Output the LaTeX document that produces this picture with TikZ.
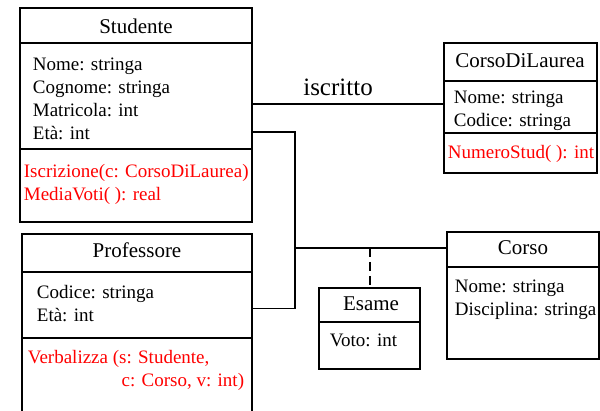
\documentclass[tikz,border=0pt]{standalone}
\usepackage{fontspec}
\setmainfont{Liberation Serif}
\begin{document}
\begin{tikzpicture}[x=1pt, y=-1pt, line width=1.8pt,
    classbox/.style={draw, anchor=north west, inner sep=0pt, outer sep=0pt},
    classname/.style={font=\fontsize{21}{25}\selectfont, anchor=base, inner sep=0pt},
    attrs/.style={font=\fontsize{19}{23}\selectfont, anchor=north west, align=left, inner sep=0pt},
    methods/.style={attrs, text=red}]

    \useasboundingbox (0,0) rectangle (600,411);

    % -----------------------
    % 1. Studente
    % -----------------------
    \node[classbox, minimum width=232pt, minimum height=214pt] (stud) at (20,8) {};
    \draw ([yshift=-35pt]stud.north west) -- ([yshift=-35pt]stud.north east);
    \draw ([yshift=-141pt]stud.north west) -- ([yshift=-141pt]stud.north east);
    \node[classname] (studname) at (136,34) {Studente};
    \node[attrs] (studattr) at (32,56.9) {Nome: stringa\\Cognome: stringa\\Matricola: int\\Età: int};
    \node[methods] (studmeth) at (23,163.9) {Iscrizione(c: CorsoDiLaurea)\\MediaVoti( ): real};

    % -----------------------
    % 2. CorsoDiLaurea
    % -----------------------
    \node[classbox, minimum width=153pt, minimum height=130pt] (cdl) at (444,43) {};
    \draw ([yshift=-38pt]cdl.north west) -- ([yshift=-38pt]cdl.north east);
    \draw ([yshift=-90pt]cdl.north west) -- ([yshift=-90pt]cdl.north east);
    \node[classname] (cdlname) at (520,68) {CorsoDiLaurea};
    \node[attrs] (cdlattr) at (453,89.9) {Nome: stringa\\Codice: stringa};
    \node[methods, anchor=base west] (cdlmeth) at (447,159) {NumeroStud( ): int};

    % -----------------------
    % 3. Professore (runs off the bottom)
    % -----------------------
    \node[classbox, minimum width=230pt, minimum height=180pt] (prof) at (22,234) {};
    \draw ([yshift=-38pt]prof.north west) -- ([yshift=-38pt]prof.north east);
    \draw ([yshift=-104pt]prof.north west) -- ([yshift=-104pt]prof.north east);
    \node[classname] (profname) at (137,258) {Professore};
    \node[attrs] (profattr) at (36,284.9) {Codice: stringa\\Età: int};
    \node[methods, anchor=base west] (profmeth) at (27,364) {Verbalizza (s: Studente,};
    \node[methods, anchor=base east] (profmethb) at (245,387) {c: Corso, v: int)};

    % -----------------------
    % 4. Esame
    % -----------------------
    \node[classbox, minimum width=101pt, minimum height=81pt] (esame) at (319,288) {};
    \draw ([yshift=-34pt]esame.north west) -- ([yshift=-34pt]esame.north east);
    \node[classname] (esamename) at (371,311) {Esame};
    \node[attrs, anchor=base west] (esameattr) at (329,347) {Voto: int};

    % -----------------------
    % 5. Corso
    % -----------------------
    \node[classbox, minimum width=152pt, minimum height=127pt] (corso) at (447,232) {};
    \draw ([yshift=-35pt]corso.north west) -- ([yshift=-35pt]corso.north east);
    \node[classname] (corsoname) at (523,255) {Corso};
    \node[attrs] (corsoattr) at (454,278.9) {Nome: stringa\\Disciplina: stringa};

    % -----------------------
    % Relationships (Lines)
    % -----------------------
    \coordinate (isc) at ([yshift=4pt]cdl.west);
    \coordinate (jn) at (295,248);

    % Studente -- CorsoDiLaurea
    \draw (isc -| stud.east) -- node[pos=0.448, above=7pt, inner sep=0pt, font=\fontsize{25}{30}\selectfont] {iscritto} (isc);

    % Studente / Professore -- Corso, with Esame as association class
    \draw ([yshift=-17pt]stud.east) -| (jn) |- ([yshift=15.5pt]prof.east);
    \draw (jn) -- (corso.west |- jn);
    \draw[line width=2pt, dash pattern=on 9pt off 5pt] (esame.north |- jn) -- (esame.north);

\end{tikzpicture}
\end{document}
